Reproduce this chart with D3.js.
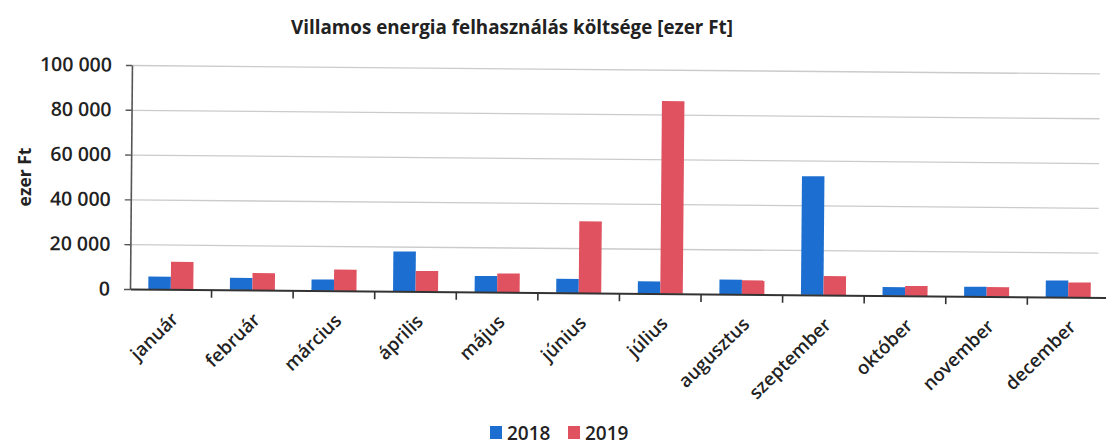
<!DOCTYPE html>
<html>
<head>
<meta charset="utf-8">
<script src="https://cdn.jsdelivr.net/npm/d3@7"></script>
<style>
  body { margin: 0; background: #fff; }
  svg { font-family: "Open Sans", sans-serif; }
</style>
</head>
<body>
<svg id="chart" width="1106" height="446"></svg>
<script>

// data (ezer Ft)
var months = ["január", "február", "március", "április", "május", "június",
              "július", "augusztus", "szeptember", "október", "november", "december"];
var cost2018 = [5600, 5400, 5000, 17800, 7200, 6200, 5400, 6500, 53000, 3800, 4300, 7400];
var cost2019 = [12300, 7600, 9500, 9200, 8400, 32000, 86000, 6300, 8500, 4400, 4200, 6600];
var series = ["2018", "2019"];
var yTicks = [0, 20000, 40000, 60000, 80000, 100000];
var yTickLabels = ["0", "20 000", "40 000", "60 000", "80 000", "100 000"];

var colors = { "2018": "#1c6fd1", "2019": "#e0525f" };

var svg = d3.select("#chart");
var margin = {top: 65, left: 130, bottom: 157, right: -3};
var width = 1106, height = 446;

var x0 = d3.scaleBand()
    .domain(months)
    .range([margin.left, width - margin.right]);

var x1 = d3.scaleBand()
    .domain(series)
    .range([0, 45]);

var y = d3.scaleLinear()
    .domain([0, 100000])
    .range([height - margin.bottom, margin.top]);

var pairOffset = (x0.bandwidth() - 45) / 2;

// the scan is a bit tilted, so the plot area is too
var plot = svg.append("g")
    .attr("transform", `rotate(0.5, ${margin.left}, ${y(0)})`);

//-------------------------------------------------------------------------
// grid
plot.append("g")
    .attr("class", "grid")
    .attr("transform", `translate(${margin.left},0)`)
    .call(d3.axisLeft(y).tickValues(yTicks.slice(1)).tickSize(-(width - margin.left - 8)).tickFormat(""))
    .call(g => g.select(".domain").remove())
    .call(g => g.selectAll("line").attr("stroke", "#cbcbcb").attr("stroke-width", 1.3));

// y axis
plot.append("g")
    .attr("class", "y-axis")
    .attr("transform", `translate(${margin.left},0)`)
    .call(d3.axisLeft(y).tickValues(yTicks).tickSize(6).tickPadding(14).tickSizeOuter(0)
        .tickFormat((d, i) => yTickLabels[i]))
    .call(g => g.select(".domain").attr("stroke", "#555").attr("stroke-width", 1.6))
    .call(g => g.selectAll("line").attr("stroke", "#555").attr("stroke-width", 1.4))
    .call(g => g.selectAll("text").attr("font-size", "19.5px").attr("font-weight", 600)
        .attr("fill", "#222").attr("font-family", "'Open Sans', sans-serif"));

// bars
var groups = plot.selectAll("g.month")
    .data(months)
  .enter().append("g")
    .attr("class", "month")
    .attr("transform", d => `translate(${x0(d) + pairOffset},0)`);

groups.selectAll("rect")
    .data((d, i) => [
        {key: "2018", value: cost2018[i]},
        {key: "2019", value: cost2019[i]}
    ])
  .enter().append("rect")
    .attr("x", d => x1(d.key))
    .attr("y", d => y(d.value))
    .attr("width", x1.bandwidth())
    .attr("height", d => y(0) - y(d.value))
    .attr("fill", d => colors[d.key]);

// x axis: baseline + ticks between the months
plot.append("g")
    .attr("class", "x-axis")
    .attr("transform", `translate(0,${y(0)})`)
    .call(d3.axisBottom(x0).tickSize(0).tickFormat("").tickSizeOuter(0))
    .call(g => g.select(".domain").attr("stroke", "#333").attr("stroke-width", 2));

plot.selectAll(".boundary")
    .data(months.slice(1))
  .enter().append("line")
    .attr("class", "boundary")
    .attr("x1", d => x0(d))
    .attr("x2", d => x0(d))
    .attr("y1", y(0))
    .attr("y2", y(0) + 8)
    .attr("stroke", "#333")
    .attr("stroke-width", 1.6);

plot.selectAll(".month-label")
    .data(months)
  .enter().append("text")
    .attr("class", "month-label")
    .attr("text-anchor", "end")
    .attr("font-size", "18.5px")
    .attr("font-weight", 600)
    .attr("fill", "#222")
    .attr("transform", d => `translate(${x0(d) + x0.bandwidth() / 2 + 9},${y(0) + 31}) rotate(-45)`)
    .text(d => d);

// y axis title
svg.append("text")
    .attr("transform", `translate(31,${(y(0) + y(100000)) / 2}) rotate(-90)`)
    .attr("text-anchor", "middle")
    .attr("font-size", "17.5px")
    .attr("font-weight", "bold")
    .attr("fill", "#222")
    .text("ezer Ft");

// title
svg.append("text")
    .attr("x", 512)
    .attr("y", 34)
    .attr("text-anchor", "middle")
    .attr("font-size", "18.8px")
    .attr("font-weight", "bold")
    .attr("fill", "#222")
    .text("Villamos energia felhasználás költsége [ezer Ft]");

//-------------------------------------------------------------------------
// legend
var legend = svg.append("g")
    .attr("class", "legend")
    .attr("transform", "translate(490,426)");

var item = legend.selectAll("g")
    .data(series)
  .enter().append("g")
    .attr("transform", (d, i) => `translate(${i * 78},0)`);

item.append("rect")
    .attr("width", 12)
    .attr("height", 13)
    .attr("fill", d => colors[d]);

item.append("text")
    .attr("x", 17)
    .attr("y", 13.5)
    .attr("font-size", "19px")
    .attr("font-weight", 600)
    .attr("fill", "#222")
    .text(d => d);

</script>
</body>
</html>
